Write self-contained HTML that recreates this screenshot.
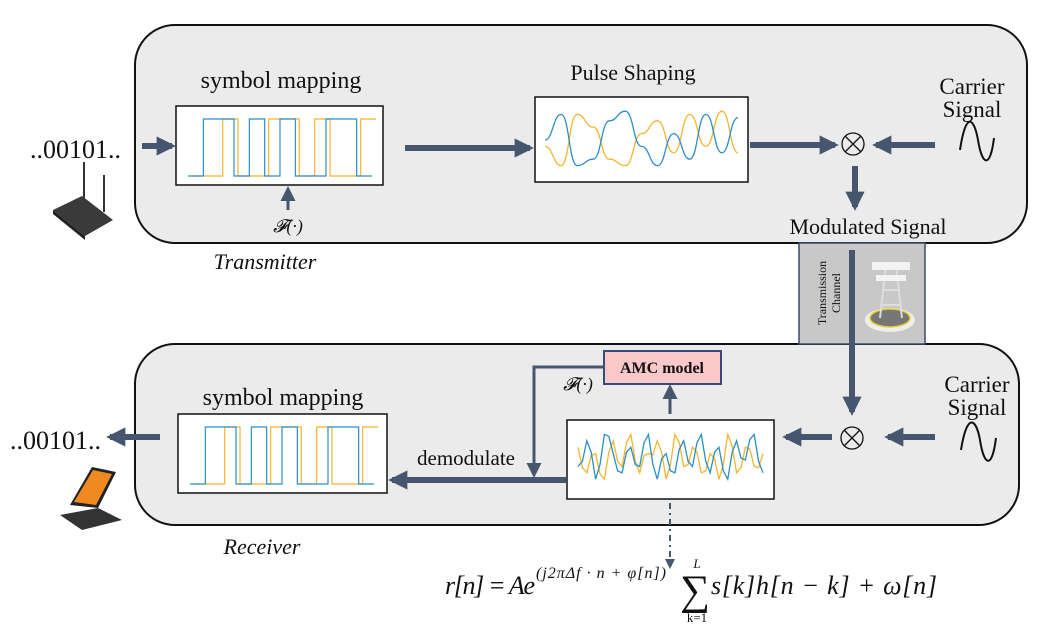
<!DOCTYPE html>
<html><head><meta charset="utf-8"><style>
body{margin:0;background:#fff;width:1059px;height:636px;overflow:hidden}
svg text{font-family:"Liberation Serif",serif;fill:#111}
</style></head><body>
<svg id="s" width="1059" height="636" viewBox="0 0 1059 636" xmlns="http://www.w3.org/2000/svg">
<defs>
<marker id="ah" viewBox="0 0 10 10" refX="8" refY="5" markerWidth="3.2" markerHeight="3.2" orient="auto"><path d="M0,0 L10,5 L0,10 z" fill="#46566e"/></marker>
<marker id="ahs" viewBox="0 0 10 10" refX="8" refY="5" markerWidth="5" markerHeight="5" orient="auto"><path d="M0,0 L10,5 L0,10 z" fill="#46566e"/></marker>
</defs>
<rect x="135" y="25" width="892" height="218" rx="40" fill="#ebebeb" stroke="#111" stroke-width="2"/>
<rect x="135" y="344" width="884" height="181" rx="40" fill="#ebebeb" stroke="#111" stroke-width="2"/>
<rect x="799" y="243" width="126" height="101" fill="#c8c8c8" stroke="#3a4a6a" stroke-width="1.5"/>
<text transform="translate(826,293) rotate(-90)" text-anchor="middle" font-size="12">Transmission</text>
<text transform="translate(840,293) rotate(-90)" text-anchor="middle" font-size="12">Channel</text>
<g>
<ellipse cx="890" cy="320" rx="25" ry="12" fill="#eee"/><ellipse cx="890" cy="318" rx="20" ry="9" fill="#777" stroke="#e8d030" stroke-width="1.5"/>
<path d="M880,318 L886,265 L896,265 L902,318 M884,290 L898,290 M882,305 L900,305" stroke="#ddd" stroke-width="2" fill="none"/>
<rect x="872" y="262" width="38" height="8" fill="#f3f3f3"/><rect x="876" y="275" width="30" height="6" fill="#f3f3f3"/>
</g>

<text x="30" y="158" font-size="26">..00101..</text>
<text x="10" y="449" font-size="26">..00101..</text>
<g><line x1="84" y1="162" x2="84" y2="203" stroke="#333" stroke-width="2"/><line x1="104" y1="175" x2="104" y2="212" stroke="#333" stroke-width="2"/><polygon points="53,210 82,196 113,220 85,236" fill="#3a3a3a"/><polygon points="53,210 85,236 85,240 53,214" fill="#222"/></g>
<g><polygon points="70,505 92,467 116,472 98,508" fill="#222"/><polygon points="74,502 93,470 112,474 96,505" fill="#f08a20"/><polygon points="60,515 98,508 122,520 82,530" fill="#333"/></g>

<text x="281" y="88" text-anchor="middle" font-size="24">symbol mapping</text>
<text x="633" y="80" text-anchor="middle" font-size="22">Pulse Shaping</text>
<text x="265" y="269" text-anchor="middle" font-size="22" font-style="italic">Transmitter</text>
<text x="262" y="554" text-anchor="middle" font-size="22" font-style="italic">Receiver</text>
<text x="283" y="405" text-anchor="middle" font-size="24">symbol mapping</text>
<text x="868" y="234" text-anchor="middle" font-size="22">Modulated Signal</text>
<text x="972" y="94" text-anchor="middle" font-size="23">Carrier</text>
<text x="972" y="117" text-anchor="middle" font-size="23">Signal</text>
<text x="977" y="392" text-anchor="middle" font-size="23">Carrier</text>
<text x="977" y="415" text-anchor="middle" font-size="23">Signal</text>
<path d="M960,150 C966,110 974,118 978,140 C982,165 990,170 994,138" fill="none" stroke="#111" stroke-width="2"/>
<path d="M961,450 C967,412 976,418 980,440 C984,466 992,470 996,438" fill="none" stroke="#111" stroke-width="2"/>
<text x="288" y="232" text-anchor="middle" font-size="18" font-style="italic">𝓕(·)</text>
<text x="578" y="390" text-anchor="middle" font-size="18" font-style="italic">𝓕(·)</text>
<text x="466" y="465" text-anchor="middle" font-size="21">demodulate</text>

<g><circle cx="853" cy="144" r="11" fill="none" stroke="#111" stroke-width="1.3"/><path d="M845,136 L861,152 M861,136 L845,152" stroke="#111" stroke-width="1.3"/></g>
<g><circle cx="852" cy="438" r="11" fill="none" stroke="#111" stroke-width="1.3"/><path d="M844,430 L860,446 M860,430 L844,446" stroke="#111" stroke-width="1.3"/></g>

<g stroke="#46566e" stroke-width="6" fill="none">
<line x1="142" y1="146" x2="172" y2="146" marker-end="url(#ah)"/>
<line x1="405" y1="148" x2="530" y2="148" marker-end="url(#ah)"/>
<line x1="750" y1="145" x2="835" y2="145" marker-end="url(#ah)"/>
<line x1="935" y1="145" x2="876" y2="145" marker-end="url(#ah)"/>
<line x1="855" y1="166" x2="855" y2="207" marker-end="url(#ah)"/>
<line x1="852" y1="250" x2="852" y2="412" marker-end="url(#ah)"/>
<line x1="935" y1="437" x2="888" y2="437" marker-end="url(#ah)"/>
<line x1="832" y1="437" x2="786" y2="437" marker-end="url(#ah)"/>
<line x1="566" y1="480" x2="392" y2="480" marker-end="url(#ah)"/>
<line x1="160" y1="437" x2="110" y2="437" marker-end="url(#ah)"/>
</g>
<g stroke="#46566e" stroke-width="3" fill="none">
<line x1="288" y1="210" x2="288" y2="189" marker-end="url(#ahs)"/>
<polyline points="604,367 534,367 534,475" marker-end="url(#ahs)"/>
<line x1="670" y1="414" x2="670" y2="387" marker-end="url(#ahs)"/>
<line x1="670" y1="503" x2="670" y2="567" stroke-width="2" stroke-dasharray="6,4,2,4" marker-end="url(#ahs)"/>
</g>
<rect x="604" y="351" width="117" height="33" fill="#f9c8c8" stroke="#3a4a7a" stroke-width="2"/>
<text x="662" y="373" text-anchor="middle" font-size="16" font-weight="bold">AMC model</text>

<rect x="176" y="106" width="207" height="79" fill="#fff" stroke="#111" stroke-width="1.5"/>
<rect x="535" y="97" width="213" height="85" fill="#fff" stroke="#111" stroke-width="1.5"/>
<rect x="178" y="414" width="209" height="79" fill="#fff" stroke="#111" stroke-width="1.5"/>
<rect x="567" y="420" width="207" height="79" fill="#fff" stroke="#111" stroke-width="1.5"/>
<g>
<text x="445" y="594" font-size="26" font-style="italic" textLength="90">r[n] = Ae</text>
<text x="536" y="578" font-size="16" font-style="italic" textLength="130">(j2πΔf · n + φ[n])</text>
<text x="695" y="604" text-anchor="middle" font-size="42">∑</text>
<text x="697" y="568" text-anchor="middle" font-size="13" font-style="italic">L</text>
<text x="697" y="622" text-anchor="middle" font-size="13">k=1</text>
<text x="711" y="594" font-size="26" font-style="italic" textLength="226">s[k]h[n − k] + ω[n]</text>
</g>
<g id="sig"></g>
</svg>
<script>
const blueBits=[0,1,1,0,1,0,1,0,0,1,1,0];
const orangeBits=[0,0,1,0,0,1,1,0,1,0,0,1];
const pulseBlue=[0.5,0.9,0.1,0.2,0.8,0.95,0.4,0.1,0.6,0.2,0.9,0.3,0.85];
const pulseOrange=[0.4,0.1,0.9,0.7,0.2,0.1,0.6,0.8,0.3,0.9,0.4,0.95,0.3];
const rxBlue=[0.4,0.8,0.2,0.9,0.6,0.3,0.7,0.4,0.9,0.2,0.6,0.3,0.8,0.4,0.9,0.3,0.7,0.2,0.8,0.5,0.9,0.3];
const rxOrange=[0.7,0.3,0.6,0.2,0.8,0.4,0.9,0.3,0.6,0.8,0.2,0.9,0.4,0.7,0.3,0.6,0.2,0.9,0.3,0.7,0.4,0.6];
const NS='http://www.w3.org/2000/svg';
const g=document.getElementById('sig');
function addPath(d,c,w,name){const p=document.createElementNS(NS,'path');p.setAttribute('d',d);p.setAttribute('fill','none');p.setAttribute('stroke',c);p.setAttribute('stroke-width',w);


g.appendChild(p);}
function square(bits,x0,x1,yT,yB,off){const step=(x1-x0)/bits.length;let d='';bits.forEach((b,i)=>{const x=x0+i*step+off,y=b?yT:yB;d+=(i?'L':'M')+x+','+y+' L'+(x+step)+','+y+' ';});return d;}
function smooth(vals,x0,x1,yT,yB){const step=(x1-x0)/(vals.length-1);let d='';vals.forEach((v,i)=>{const x=x0+i*step,y=yB-v*(yB-yT);if(!i)d='M'+x+','+y;else{const px=x-step,pv=vals[i-1],py=yB-pv*(yB-yT);d+=' C'+(px+step/2)+','+py+' '+(x-step/2)+','+y+' '+x+','+y;}});return d;}
function jag(vals,x0,x1,yT,yB){const step=(x1-x0)/(vals.length-1);let d='';vals.forEach((v,i)=>{const x=x0+i*step,y=yB-v*(yB-yT);d+=(i?'L':'M')+x+','+y+' ';if(i<vals.length-1){const xm=x+step/2;const ym=yB-((v+vals[i+1])/2+((i%2)?0.12:-0.12))*(yB-yT);d+='L'+xm+','+ym+' ';}});return d;}
[[176,0],[178,308]].forEach(([bx,dy],k)=>{
addPath(square(orangeBits,bx+12,bx+196,119+dy,176+dy,4),'#f4b52e',1.2,'square-wave-orange-'+k);
addPath(square(blueBits,bx+12,bx+196,119+dy,176+dy,0),'#2a8fc6',1.2,'square-wave-blue-'+k);});
addPath(smooth(pulseOrange,545,738,108,172),'#f4b52e',1.3,'pulse-orange');
addPath(smooth(pulseBlue,545,738,108,172),'#2a8fc6',1.3,'pulse-blue');
addPath(jag(rxOrange,578,763,428,492),'#f4b52e',1.3,'received-orange');
addPath(jag(rxBlue,578,763,428,492),'#2a8fc6',1.3,'received-blue');
</script>
</body></html>
